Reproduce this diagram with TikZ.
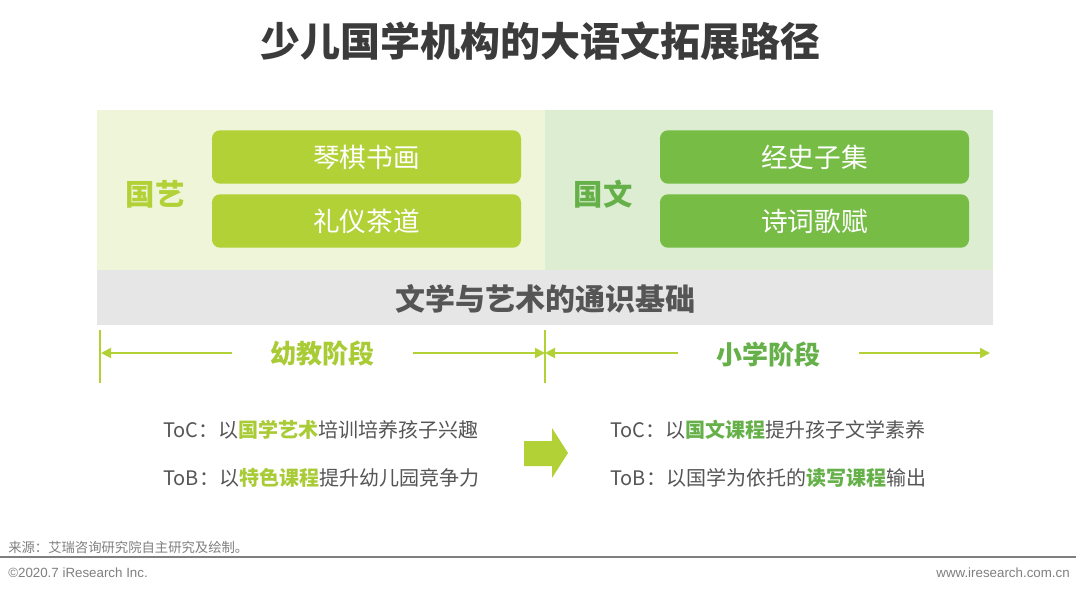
\documentclass[tikz,border=0pt]{standalone}
\usepackage{fontspec}
\setmainfont{Noto Sans CJK SC}
\newfontfamily\arialf{Liberation Sans}
\usetikzlibrary{arrows.meta}
\definecolor{ygreen}{HTML}{B2D136}
\definecolor{dgreen}{HTML}{76BC45}
\definecolor{ygtext}{HTML}{A9CB36}
\definecolor{dgtext}{HTML}{66B04A}
\definecolor{lpanel}{HTML}{EEF5D8}
\definecolor{rpanel}{HTML}{DDEDD1}
\definecolor{band}{HTML}{E6E6E6}
\definecolor{titlec}{HTML}{3B3B3B}
\definecolor{bodyc}{HTML}{555555}
\definecolor{footc}{HTML}{7F7F7F}
\tikzset{
  pill/.style={rounded corners=6pt, minimum width=231.75pt, minimum height=40pt, text=white, font=\fontsize{20}{22}\selectfont, inner sep=0pt},
  lpill/.style={pill, fill=ygreen},
  rpill/.style={pill, fill=dgreen},
  catlab/.style={font=\bfseries\fontsize{22}{24}\selectfont, inner sep=0pt},
  stagelab/.style={font=\bfseries\fontsize{19.5}{22}\selectfont, inner sep=0pt},
  dimline/.style={draw=ygreen, line width=1.5pt},
  dimarrow/.style={draw=ygreen, line width=1.5pt, -{Triangle[length=7.5pt,width=7.5pt]}},
  bodytext/.style={anchor=west, text=bodyc, font=\fontsize{15}{17}\selectfont, inner sep=0pt},
  foot/.style={text=footc, inner sep=0pt, font=\arialf\fontsize{10}{12}\selectfont}
}
\begin{document}
\begin{tikzpicture}[x=0.75pt,y=-0.75pt]
\useasboundingbox (0,0) rectangle (1080,593);
\fill[white] (0,0) rectangle (1080,593);
% title
\node[text=titlec, font=\bfseries\fontsize{30}{34}\selectfont, inner sep=0pt] (title) at (540,41) {少儿国学机构的大语文拓展路径};
% panels
\fill[lpanel] (97,110) rectangle (545,270);
\fill[rpanel] (545,110) rectangle (993,270);
\fill[band] (97,270) rectangle (993,325);
\node[text=bodyc, font=\bfseries\fontsize{22.5}{24}\selectfont, inner sep=0pt] (base) at (545,299) {文学与艺术的通识基础};
% left side
\node[catlab, text=ygreen] (guoyi) at (155,194) {国艺};
\node[lpill] (qin) at (366.5,157) {琴棋书画};
\node[lpill] (li) at (366.5,221) {礼仪茶道};
% right side
\node[catlab, text=dgtext] (guowen) at (603,194) {国文};
\node[rpill] (jing) at (814.5,157) {经史子集};
\node[rpill] (shi) at (814.5,221) {诗词歌赋};
% dimension lines
\coordinate (v1t) at (100,330); \coordinate (v1b) at (100,383);
\coordinate (v2t) at (545,330); \coordinate (v2b) at (545,383);
\draw[dimline] (v1t) -- (v1b);
\draw[dimline] (v2t) -- (v2b);
\node[stagelab, text=ygtext] (youjiao) at (322,354) {幼教阶段};
\node[stagelab, text=dgtext] (xiaoxue) at (768,354) {小学阶段};
\coordinate (a1s) at (232,353); \coordinate (a1e) at (101,353);
\coordinate (a2s) at (413,353); \coordinate (a2e) at (545,353);
\coordinate (a3s) at (678,353); \coordinate (a3e) at (545,353);
\coordinate (a4s) at (859,353); \coordinate (a4e) at (990,353);
\draw[dimarrow] (a1s) -- (a1e);
\draw[dimarrow] (a2s) -- (a2e);
\draw[dimarrow] (a3s) -- (a3e);
\draw[dimarrow] (a4s) -- (a4e);
% body texts
\node[bodytext] (toc1) at (163,430) {ToC：以\textcolor{ygtext}{\bfseries 国学艺术}培训培养孩子兴趣};
\node[bodytext] (tob1) at (163,478) {ToB：以\textcolor{ygtext}{\bfseries 特色课程}提升幼儿园竞争力};
\node[bodytext] (toc2) at (610,430) {ToC：以\textcolor{dgtext}{\bfseries 国文课程}提升孩子文学素养};
\node[bodytext] (tob2) at (610,478) {ToB：以国学为依托的\textcolor{dgtext}{\bfseries 读写课程}输出};
% big arrow
\fill[ygreen] (524,441) -- (552,441) -- (552,428) -- (568,453) -- (552,478) -- (552,466) -- (524,466) -- cycle;
% footer
\node[foot, anchor=west, font=\fontsize{10}{12}\selectfont] (src) at (8,547) {来源：艾瑞咨询研究院自主研究及绘制。};
\coordinate (fl1) at (0,557); \coordinate (fl2) at (1076,557);
\draw[draw=footc, line width=0.9pt] (fl1) -- (fl2);
\node[foot, anchor=west] (copy) at (8,573) {©2020.7 iResearch Inc.};
\node[foot, anchor=east] (web) at (1070,573) {www.iresearch.com.cn};
\end{tikzpicture}
\end{document}
